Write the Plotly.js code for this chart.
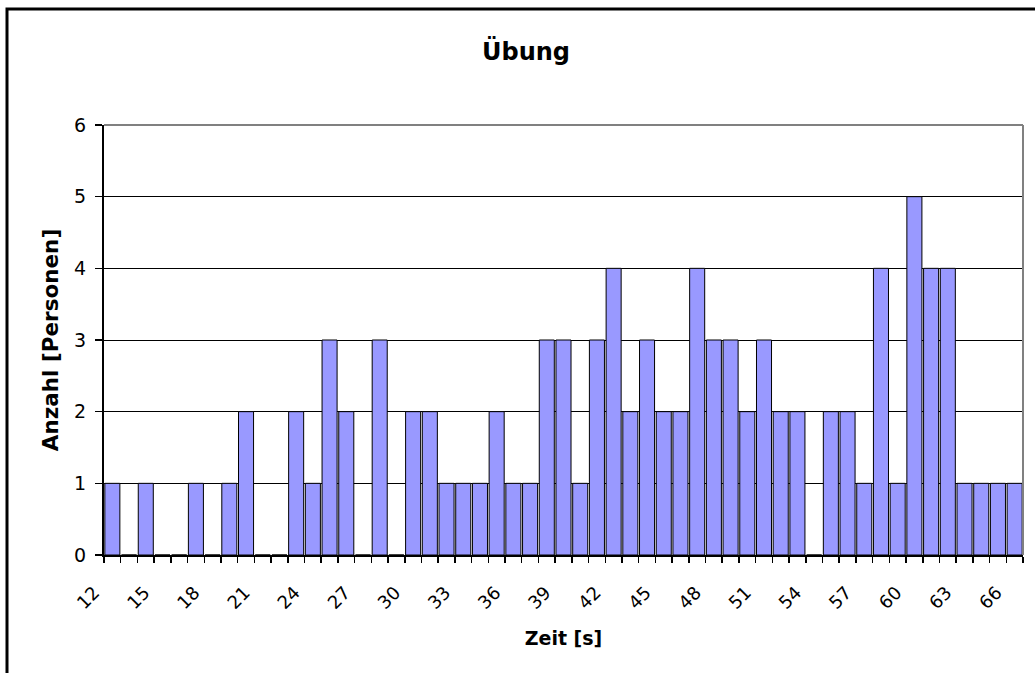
<!DOCTYPE html>
<html>
<head>
<meta charset="utf-8">
<script src="https://cdn.plot.ly/plotly-3.0.1.min.js"></script>
<style>
html, body { margin: 0; padding: 0; background: #ffffff; }
#chart { width: 1035px; height: 673px; }
</style>
</head>
<body>
<div id="chart"></div>
<script>
// Zeit [s] categories
const categories = [12, 13, 14, 15, 16, 17, 18, 19, 20, 21, 22, 23, 24, 25, 26, 27, 28, 29, 30,
  31, 32, 33, 34, 35, 36, 37, 38, 39, 40, 41, 42, 43, 44, 45, 46, 47, 48, 49, 50,
  51, 52, 53, 54, 55, 56, 57, 58, 59, 60, 61, 62, 63, 64, 65, 66];
// Anzahl [Personen]
const counts = [1, 0, 1, 0, 0, 1, 0, 1, 2, 0, 0, 2, 1, 3, 2, 0, 3, 0, 2,
  2, 1, 1, 1, 2, 1, 1, 3, 3, 1, 3, 4, 2, 3, 2, 2, 4, 3, 3, 2,
  3, 2, 2, 0, 2, 2, 1, 4, 1, 5, 4, 4, 1, 1, 1, 1];
// labelled ticks
const tickLabels = [12, 15, 18, 21, 24, 27, 30, 33, 36, 39, 42, 45, 48, 51, 54, 57, 60, 63, 66];
const yTicks = [0, 1, 2, 3, 4, 5, 6];

const chartTitle = 'Übung';
const xTitle = 'Zeit [s]';
const yTitle = 'Anzahl [Personen]';

const xCats = categories.map(String);
const labelSet = new Set(tickLabels.map(String));
const tickText = xCats.map(c => labelSet.has(c) ? c : '');

const FONT = 'DejaVu Sans, Liberation Sans, Arial, sans-serif';

const trace = {
  type: 'bar',
  x: xCats,
  y: counts,
  marker: { color: '#9999FF', line: { color: '#000000', width: 1 } },
  hoverinfo: 'x+y'
};

const L = 104, R = 1023, T = 125, B = 555;
const pw = R - L, ph = B - T;
const px = v => (v - L) / pw;
const py = v => (B - v) / ph;

const layout = {
  width: 1035,
  height: 673,
  margin: { l: L, r: 1035 - R, t: T, b: 673 - B },
  paper_bgcolor: '#ffffff',
  plot_bgcolor: '#ffffff',
  showlegend: false,
  bargap: 0.1,
  font: { family: FONT, color: '#000000', size: 16 },
  title: {
    text: '<b>' + chartTitle + '</b>',
    font: { family: FONT, size: 24, color: '#000000' },
    x: 526 / 1035, xref: 'container', xanchor: 'center',
    y: 1 - 52 / 673, yref: 'container', yanchor: 'middle'
  },
  xaxis: {
    type: 'category',
    tickvals: xCats,
    ticktext: tickText,
    tickson: 'boundaries',
    ticks: 'outside',
    ticklen: 6,
    tickwidth: 1.5,
    tickcolor: '#000000',
    tickangle: -45,
    tickfont: { family: FONT, size: 18, color: '#000000' },
    ticklabelstandoff: 18,
    ticklabelshift: -18,
    showline: true,
    linecolor: '#000000',
    linewidth: 2,
    showgrid: false,
    zeroline: false,
    automargin: false,
    fixedrange: true,
    title: { text: '<b>' + xTitle + '</b>', font: { family: FONT, size: 19, color: '#000000' }, standoff: 20 }
  },
  yaxis: {
    range: [0, 6],
    tickvals: yTicks,
    ticks: 'outside',
    ticklen: 7,
    tickwidth: 1.5,
    tickcolor: '#000000',
    tickfont: { family: FONT, size: 19, color: '#000000' },
    ticklabelstandoff: 5,
    showline: true,
    linecolor: '#000000',
    linewidth: 2,
    showgrid: true,
    gridcolor: '#000000',
    gridwidth: 1,
    zeroline: false,
    automargin: false,
    fixedrange: true,
    title: { text: '<b>' + yTitle + '</b>', font: { family: FONT, size: 21.5, color: '#000000' }, standoff: 10 }
  },
  shapes: [
    { type: 'line', xref: 'paper', yref: 'paper', x0: 0, x1: 1, y0: 1, y1: 1, line: { color: '#808080', width: 2 } },
    { type: 'line', xref: 'paper', yref: 'paper', x0: 1, x1: 1, y0: 0, y1: 1, line: { color: '#808080', width: 2 } },
    { type: 'rect', xref: 'paper', yref: 'paper', x0: px(7), x1: px(1060), y0: py(9), y1: py(700), line: { color: '#000000', width: 3 }, fillcolor: 'rgba(0,0,0,0)', layer: 'below' }
  ]
};

Plotly.newPlot('chart', [trace], layout, { displayModeBar: false, staticPlot: true });
</script>
</body>
</html>
